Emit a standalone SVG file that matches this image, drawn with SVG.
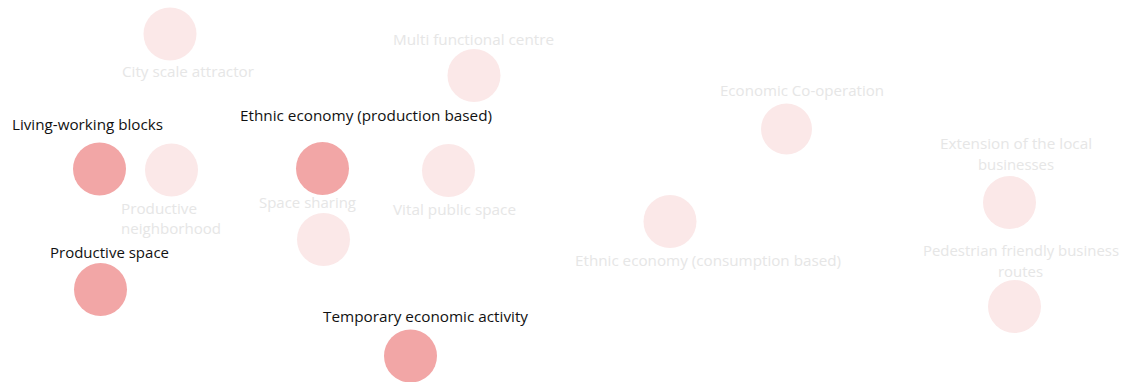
<svg xmlns="http://www.w3.org/2000/svg" width="1124" height="382" viewBox="0 0 1124 382">
<style>
text{font-family:"Open Sans","Liberation Sans",sans-serif;font-size:14px;text-anchor:middle}
.dk{fill:#f2a6a6}
.lt{fill:#fbe8e8}
.tl{fill:#e6e6e6}
.td{fill:#111111}
</style>
<rect width="1124" height="382" fill="#ffffff"/>
<g id="connectors"></g>
<g id="city-scale-attractor"><circle class="lt" cx="170" cy="34" r="26.5"/><text class="tl" x="188" y="77" textLength="132" lengthAdjust="spacingAndGlyphs">City scale attractor</text></g>
<g id="multi-functional-centre"><circle class="lt" cx="474" cy="75.5" r="26.5"/><text class="tl" x="473.5" y="45" textLength="161" lengthAdjust="spacingAndGlyphs">Multi functional centre</text></g>
<g id="living-working-blocks"><circle class="dk" cx="99.5" cy="169" r="26.5"/><text class="td" x="87.5" y="130" textLength="151" lengthAdjust="spacingAndGlyphs">Living-working blocks</text></g>
<g id="productive-neighborhood"><circle class="lt" cx="171.5" cy="170" r="26.5"/><text class="tl" x="159" y="214" textLength="76" lengthAdjust="spacingAndGlyphs">Productive</text><text class="tl" x="171" y="234" textLength="100" lengthAdjust="spacingAndGlyphs">neighborhood</text></g>
<g id="ethnic-economy-production"><circle class="dk" cx="322.5" cy="168.5" r="26.5"/><text class="td" x="366" y="121" textLength="252" lengthAdjust="spacingAndGlyphs">Ethnic economy (production based)</text></g>
<g id="space-sharing"><circle class="lt" cx="323.5" cy="239.5" r="26.5"/><text class="tl" x="307.5" y="208" textLength="97" lengthAdjust="spacingAndGlyphs">Space sharing</text></g>
<g id="vital-public-space"><circle class="lt" cx="448.5" cy="170.5" r="26.5"/><text class="tl" x="454.5" y="215" textLength="123" lengthAdjust="spacingAndGlyphs">Vital public space</text></g>
<g id="economic-co-operation"><circle class="lt" cx="786.5" cy="129" r="25.5"/><text class="tl" x="802" y="96" textLength="164" lengthAdjust="spacingAndGlyphs">Economic Co-operation</text></g>
<g id="ethnic-economy-consumption"><circle class="lt" cx="670" cy="221.5" r="26.5"/><text class="tl" x="708" y="266" textLength="266" lengthAdjust="spacingAndGlyphs">Ethnic economy (consumption based)</text></g>
<g id="extension-local-businesses"><circle class="lt" cx="1009.5" cy="202.5" r="26.5"/><text class="tl" x="1016" y="149" textLength="152" lengthAdjust="spacingAndGlyphs">Extension of the local</text><text class="tl" x="1016" y="170" textLength="76" lengthAdjust="spacingAndGlyphs">businesses</text></g>
<g id="pedestrian-friendly-routes"><circle class="lt" cx="1014.5" cy="306.5" r="26.5"/><text class="tl" x="1021" y="256" textLength="196" lengthAdjust="spacingAndGlyphs">Pedestrian friendly business</text><text class="tl" x="1020.5" y="277" textLength="45" lengthAdjust="spacingAndGlyphs">routes</text></g>
<g id="productive-space"><circle class="dk" cx="100.5" cy="289.5" r="26.5"/><text class="td" x="109.5" y="258" textLength="119" lengthAdjust="spacingAndGlyphs">Productive space</text></g>
<g id="temporary-economic-activity"><circle class="dk" cx="410.5" cy="356" r="26.5"/><text class="td" x="425.5" y="322" textLength="205" lengthAdjust="spacingAndGlyphs">Temporary economic activity</text></g>
</svg>
